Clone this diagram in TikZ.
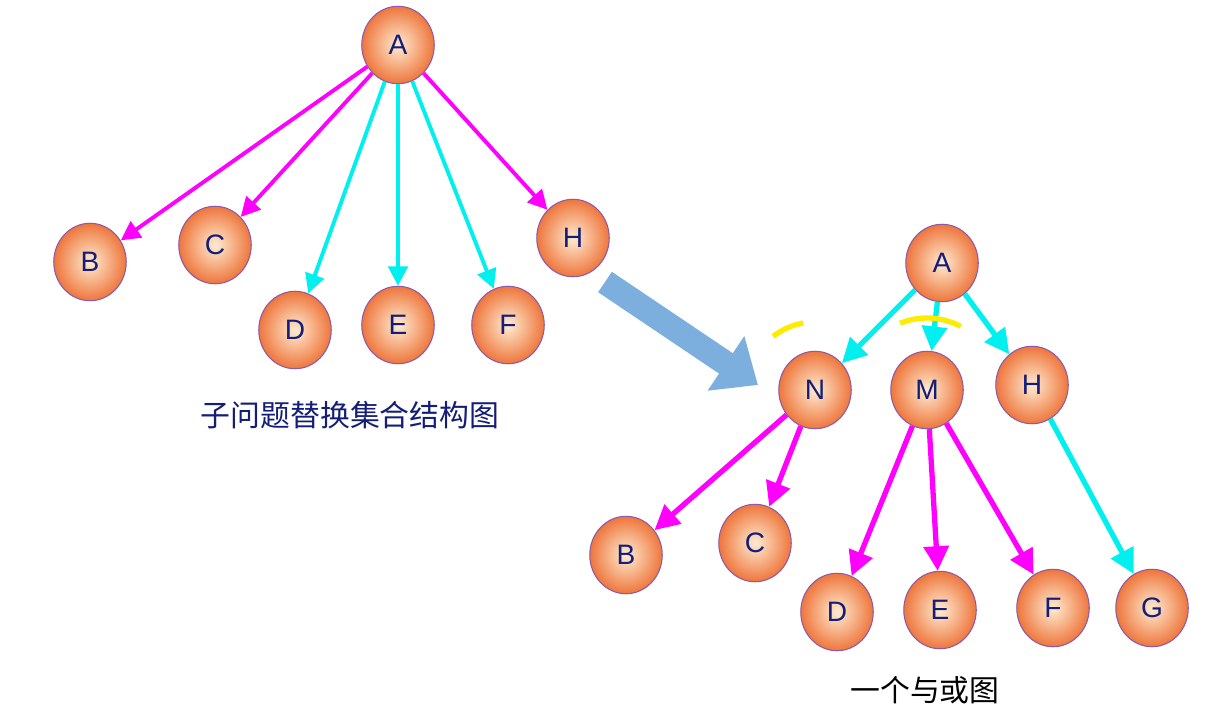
\documentclass[tikz,border=0pt]{standalone}
\usepackage{fontspec}
\setmainfont{Liberation Sans}
\newfontfamily\cjk{Noto Sans CJK SC}
\usetikzlibrary{arrows.meta,shapes.geometric}
\definecolor{ballout}{RGB}{238,118,60}
\definecolor{ballin}{RGB}{255,236,210}
\definecolor{ballrim}{RGB}{140,90,170}
\definecolor{txt}{RGB}{20,30,120}
\definecolor{mag}{RGB}{255,0,255}
\definecolor{cyn}{RGB}{0,240,240}
\definecolor{yel}{RGB}{255,235,0}
\definecolor{bigarr}{RGB}{125,175,222}
\tikzset{
  ball/.style={ellipse, draw=ballrim, line width=0.6pt, shading=radial,
    inner color=ballin, outer color=ballout, minimum width=1.45cm,
    minimum height=1.55cm, font=\fontsize{16}{18}\selectfont, text=txt},
  pedge/.style={mag, line width=2.2pt, -{Triangle[length=11pt,width=11pt]}},
  cedge/.style={cyn, line width=2.2pt, -{Triangle[length=11pt,width=11pt]}},
  pedgeb/.style={mag, line width=3pt, -{Triangle[length=14pt,width=14pt]}},
  cedgeb/.style={cyn, line width=3pt, -{Triangle[length=14pt,width=14pt]}},
  andarc/.style={yel, line width=3pt}
}
\begin{document}
\begin{tikzpicture}[x=0.02cm,y=-0.02cm]
\useasboundingbox (0,0) rectangle (1216,720);
% left tree
\node[ball] (A) at (398,45) {A};
\node[ball] (B) at (90,262) {B};
\node[ball] (C) at (215,245) {C};
\node[ball] (D) at (295,330) {D};
\node[ball] (E) at (398,325) {E};
\node[ball] (F) at (508,325) {F};
\node[ball] (H) at (573,238) {H};
\node[font=\cjk\fontsize{17}{20}\selectfont, text=txt] (t1) at (350,415) {子问题替换集合结构图};
\draw[pedge] (A) -- (B);
\draw[pedge] (A) -- (C);
\draw[cedge] (A) -- (D);
\draw[cedge] (A) -- (E);
\draw[cedge] (A) -- (F);
\draw[pedge] (A) -- (H);
\draw[andarc] (A.center) ++(-139:122) arc[start angle=-139, end angle=-131, radius=122];
\draw[andarc] (A.center) ++(-104:112) arc[start angle=-104, end angle=-74, radius=112];
% big arrow
\coordinate (s) at (605,282);
\coordinate (t) at (758,385);
\draw[bigarr, line width=14pt, -{Triangle[length=22pt,width=36pt]}] (s) -- (t);
% right tree
\node[ball] (A2) at (942,263) {A};
\node[ball] (N) at (815,390) {N};
\node[ball] (M) at (927,390) {M};
\node[ball] (H2) at (1032,385) {H};
\node[ball] (B2) at (626,555) {B};
\node[ball] (C2) at (755,543) {C};
\node[ball] (D2) at (837,612) {D};
\node[ball] (E2) at (940,610) {E};
\node[ball] (F2) at (1053,608) {F};
\node[ball] (G2) at (1152,608) {G};
\node[font=\cjk\fontsize{17}{20}\selectfont, text=black] (t2) at (925,690) {一个与或图};
\draw[cedgeb] (A2) -- (N);
\draw[cedgeb] (A2) -- (M);
\draw[cedgeb] (A2) -- (H2);
\draw[pedgeb] (N) -- (B2);
\draw[pedgeb] (N) -- (C2);
\draw[pedgeb] (M) -- (D2);
\draw[pedgeb] (M) -- (E2);
\draw[pedgeb] (M) -- (F2);
\draw[cedgeb] (H2) -- (G2);
\draw[andarc] (N.center) ++(-128:68) arc[start angle=-128, end angle=-100, radius=68];
\draw[andarc] (M.center) ++(-112:72) arc[start angle=-112, end angle=-62, radius=72];
\end{tikzpicture}
\end{document}
